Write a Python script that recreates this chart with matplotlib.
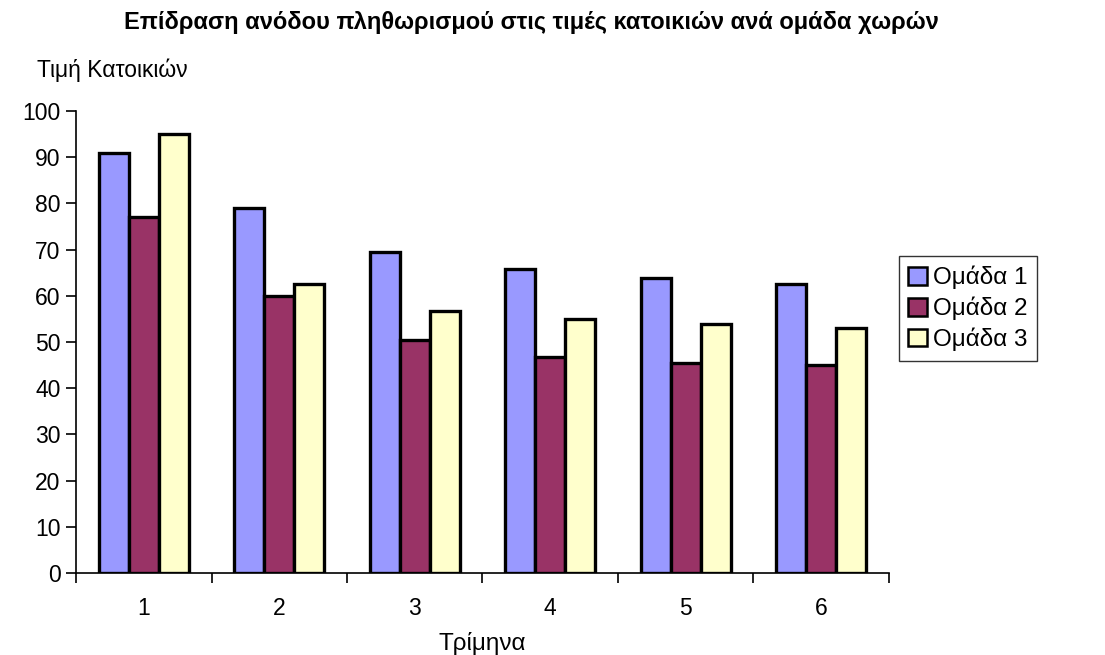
import matplotlib.pyplot as plt
from matplotlib.ticker import FixedLocator
import numpy as np

# quarters and house-price index per country group
quarters = ["1", "2", "3", "4", "5", "6"]
group_1 = [91, 79, 69.5, 65.8, 63.8, 62.5]
group_2 = [77, 60, 50.5, 46.7, 45.5, 45]
group_3 = [95, 62.5, 56.8, 55, 54, 53]
series_names = ["Ομάδα 1", "Ομάδα 2", "Ομάδα 3"]
colors = ["#9999FF", "#993366", "#FFFFCC"]

plt.rcParams["font.family"] = ["Liberation Sans", "DejaVu Sans"]


def main():
    fig = plt.figure(figsize=(11.05, 6.55), dpi=100)
    ax = fig.add_axes([0.0688, 0.1252, 0.7357, 0.7053])

    x = np.arange(1, len(quarters) + 1)
    width = 1 / 4.5
    for i, (vals, name, col) in enumerate(zip([group_1, group_2, group_3], series_names, colors)):
        ax.bar(x + (i - 1) * width, vals, width, color=col, edgecolor="black",
               linewidth=2.4, label=name, zorder=3)

    ax.set_xlim(0.5, len(quarters) + 0.5)
    ax.set_ylim(0, 100)
    ax.set_yticks(range(0, 101, 10))
    ax.set_xticks(x)
    ax.set_xticklabels(quarters)
    ax.xaxis.set_minor_locator(FixedLocator(np.arange(0.5, len(quarters) + 1, 1)))
    ax.tick_params(axis="x", which="major", length=0, pad=17, labelsize=16.5)
    ax.tick_params(axis="x", which="minor", length=7, width=1.2, direction="out")
    ax.tick_params(axis="y", length=7, width=1.2, direction="out", labelsize=16.5, pad=4)

    for side in ["top", "right"]:
        ax.spines[side].set_visible(False)
    for side in ["left", "bottom"]:
        ax.spines[side].set_linewidth(1.2)

    ax.set_xlabel("Τρίμηνα", fontsize=17.5, labelpad=9)
    fig.text(0.0335, 1 - 70 / 655, "Τιμή Κατοικιών", fontsize=16.5, ha="left", va="center")
    fig.text(0.481, 1 - 22 / 655, "Επίδραση ανόδου πληθωρισμού στις τιμές κατοικιών ανά ομάδα χωρών",
             fontsize=17, fontweight="bold", ha="center", va="center")

    leg = ax.legend(loc="center left", bbox_to_anchor=(1.012, 0.5725), fontsize=17.5,
                    frameon=True, fancybox=False, edgecolor="black",
                    handlelength=0.75, handleheight=0.75, handletextpad=0.25,
                    borderpad=0.4, labelspacing=0.3, borderaxespad=0)
    leg.get_frame().set_linewidth(1.0)
    for h in leg.legend_handles:
        h.set_linewidth(1.8)

    fig.savefig("out.png", dpi=100)
    plt.close(fig)


if __name__ == "__main__":
    main()
